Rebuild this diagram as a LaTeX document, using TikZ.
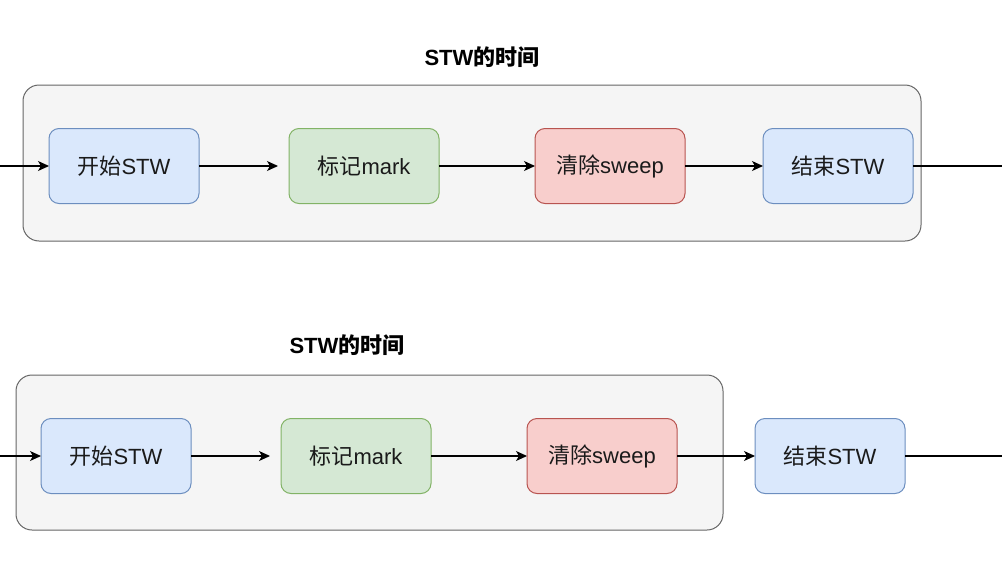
\documentclass[tikz,border=0pt]{standalone}
\usepackage{fontspec}
\setmainfont{Liberation Sans}
\newfontfamily\cjk{Noto Sans CJK SC}
\usetikzlibrary{positioning,arrows.meta}

\newcommand{\zh}[1]{{\cjk #1}}

\definecolor{rahmenfill}{HTML}{F5F5F5}
\definecolor{rahmenline}{HTML}{666666}
\definecolor{blaufill}{HTML}{DAE8FC}
\definecolor{blauline}{HTML}{6C8EBF}
\definecolor{gruenfill}{HTML}{D5E8D4}
\definecolor{gruenline}{HTML}{82B366}
\definecolor{rotfill}{HTML}{F8CECC}
\definecolor{rotline}{HTML}{B85450}
\definecolor{schrift}{HTML}{1A1A1A}

\tikzset{
	phase/.style={rounded corners=10pt, line width=1pt, outer sep=0pt, minimum width=150pt, minimum height=75pt, text=schrift},
	blau/.style={phase, draw=blauline, fill=blaufill},
	gruen/.style={phase, draw=gruenline, fill=gruenfill},
	rot/.style={phase, draw=rotline, fill=rotfill},
	rahmen/.style={rounded corners=16pt, line width=1pt, draw=rahmenline, fill=rahmenfill},
	titel/.style={font=\fontsize{22}{26}\selectfont\bfseries},
	pfeil/.style={-{Stealth[length=11pt,width=10pt,inset=3pt]}, line width=1.2pt},
	linie/.style={line width=1.2pt},
}

\begin{document}
\begin{tikzpicture}[x=1pt, y=1pt, font=\fontsize{22}{26}\selectfont]
	\useasboundingbox (0,0) rectangle (1002,-576);

	% oben: alles innerhalb der STW-Zeit
	\node[rahmen, minimum width=898pt, minimum height=156pt] (stw1) at (472,-163) {};
	\node[titel] (titel1) at (482,-57) {STW\zh{的时间}};

	\node[blau] (start1) at (124,-166) {\zh{开始}STW};
	\node[gruen, right=90pt of start1] (mark1) {\zh{标记}mark};
	\node[rot, right=96pt of mark1] (sweep1) {\zh{清除}sweep};
	\node[blau, right=78pt of sweep1] (ende1) {\zh{结束}STW};

	\coordinate (ein1) at (0,-166);
	\coordinate (aus1) at (1002,-166);

	\draw[pfeil] (ein1) -- (start1);
	\draw[pfeil] (start1) -- ([xshift=-11pt]mark1.west);
	\draw[pfeil] (mark1) -- (sweep1);
	\draw[pfeil] (sweep1) -- (ende1);
	\draw[linie] (ende1) -- (aus1);

	% unten: Ende liegt ausserhalb
	\node[rahmen, minimum width=707pt, minimum height=155pt] (stw2) at (369.5,-452.5) {};
	\node[titel] (titel2) at (347,-345) {STW\zh{的时间}};

	\node[blau] (start2) at (116,-456) {\zh{开始}STW};
	\node[gruen, right=90pt of start2] (mark2) {\zh{标记}mark};
	\node[rot, right=96pt of mark2] (sweep2) {\zh{清除}sweep};
	\node[blau, right=78pt of sweep2] (ende2) {\zh{结束}STW};

	\coordinate (ein2) at (0,-456);
	\coordinate (aus2) at (1002,-456);

	\draw[pfeil] (ein2) -- (start2);
	\draw[pfeil] (start2) -- ([xshift=-11pt]mark2.west);
	\draw[pfeil] (mark2) -- (sweep2);
	\draw[pfeil] (sweep2) -- (ende2);
	\draw[linie] (ende2) -- (aus2);
\end{tikzpicture}
\end{document}
